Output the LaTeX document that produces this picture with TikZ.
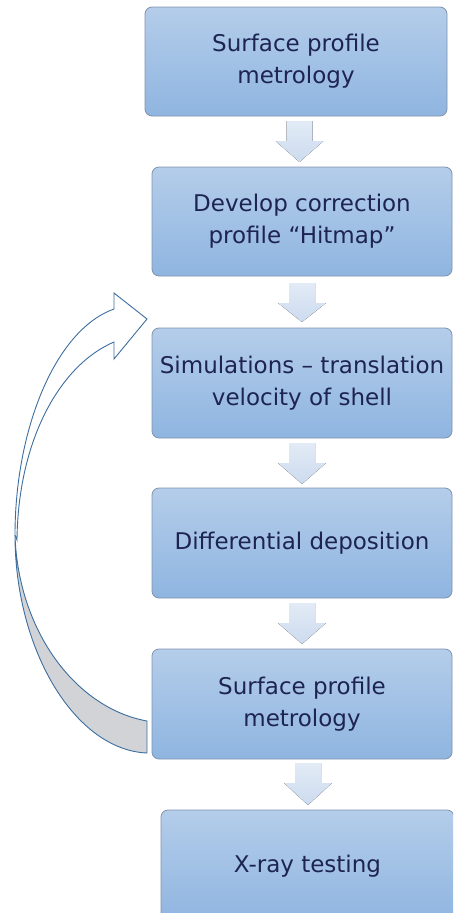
\documentclass[tikz,border=0pt]{standalone}
\usepackage{fontspec}
\setmainfont{DejaVu Sans}
\usetikzlibrary{calc}
\definecolor{boxtop}{HTML}{B4CDEA}
\definecolor{boxbot}{HTML}{8FB5E0}
\definecolor{boxedge}{HTML}{7F93AD}
\definecolor{txt}{HTML}{1E2452}
\definecolor{arrtop}{HTML}{E2EBF6}
\definecolor{arrbot}{HTML}{CCDBEF}
\definecolor{loopline}{HTML}{3D6E9E}
\definecolor{loopgrey}{HTML}{D1D3D7}
\newcommand\blkarrow[4]{%
  \fill[blockarrow] (#1-13,#2) -- (#1+13,#2) -- (#1+13,#3) -- (#1+24,#3) -- (#1,#4) -- (#1-24,#3) -- (#1-13,#3) -- cycle;}
\begin{document}
\begin{tikzpicture}[x=1pt,y=-1pt,
  procbox/.style={draw=boxedge, line width=0.8pt, rounded corners=7pt,
    top color=boxtop, bottom color=boxbot, text=txt, align=center,
    font=\fontsize{23}{32}\selectfont, inner sep=0pt},
  blockarrow/.style={top color=arrtop, bottom color=arrbot, draw=none},
  loopedge/.style={draw=loopline, line width=0.9pt, line join=miter}]
\useasboundingbox (0,0) rectangle (453,913);
\clip (0,0) rectangle (453,913);
\node[procbox, minimum width=302pt, minimum height=109pt] (b1) at (296,61.5) {Surface profile\\metrology};
\node[procbox, minimum width=300pt, minimum height=109pt] (b2) at (302,221.5) {Develop correction\\profile “Hitmap”};
\node[procbox, minimum width=300pt, minimum height=110pt] (b3) at (302,383) {Simulations – translation\\velocity of shell};
\node[procbox, minimum width=300pt, minimum height=110pt] (b4) at (302,543) {Differential deposition};
\node[procbox, minimum width=300pt, minimum height=110pt] (b5) at (302,704) {Surface profile\\metrology};
\node[procbox, minimum width=293pt, minimum height=112pt] (b6) at (307.5,866) {X-ray testing};
\blkarrow{299.5}{121}{141}{162}
\blkarrow{302}{283}{303}{322}
\blkarrow{302}{443}{463}{484}
\blkarrow{302}{603}{623}{644}
\blkarrow{308}{763}{783}{805}
% loop-back curved arrow
\filldraw[loopedge, fill=loopgrey] (147,753) .. controls (75,750) and (15,650) .. (15,535)
  .. controls (18,630) and (75,708) .. (147,721) -- cycle;
\filldraw[loopedge, fill=white] (15,535) .. controls (15,430) and (55,330) .. (114,309)
  -- (114,293) -- (147,319) -- (114,359) -- (114,342)
  .. controls (60,365) and (18,440) .. (17,540) -- cycle;
\end{tikzpicture}
\end{document}
